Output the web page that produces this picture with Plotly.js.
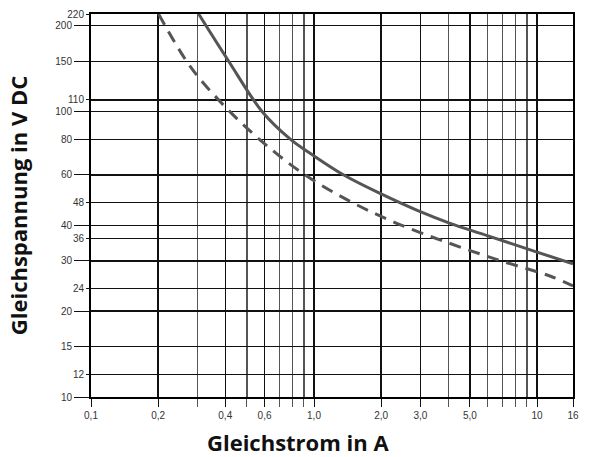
<!DOCTYPE html>
<html>
<head>
<meta charset="utf-8">
<script src="https://cdn.plot.ly/plotly-3.0.1.min.js"></script>
<style>html,body{margin:0;padding:0;background:#fff;}#chart{width:596px;height:457px;}</style>
</head>
<body>
<div id="chart"></div>
<script>
// Data (x in A, y in V DC)
const solidX = [0.304, 0.415, 0.586, 0.785, 1.0, 1.36, 1.99, 2.94, 4.05, 5.98, 10.0, 14.5];
const solidY = [220, 150, 100, 80, 70, 60, 51.6, 44.9, 40.7, 36.8, 32.2, 29.3];
const dashedX = [0.201, 0.279, 0.394, 0.576, 0.885, 1.41, 2.32, 3.96, 6.63, 11.5, 14.5];
const dashedY = [220, 143.8, 105.2, 79.4, 61, 49.1, 40.8, 34.8, 30.3, 26.5, 24.5];

// Tick labels
const xTickVals = [0.1, 0.2, 0.4, 0.6, 1, 2, 3, 5, 10, 14.5];
const xTickText = ['0,1', '0,2', '0,4', '0,6', '1,0', '2,0', '3,0', '5,0', '10', '16'];
const xMinorVals = [0.3, 0.5, 0.7, 0.8, 0.9, 4, 6, 7, 8, 9];
const xMajorGrid = [1, 10];
const yTickValsA = [10, 15, 20, 30, 40, 60, 80, 100, 150, 200];
const yTickValsB = [12, 24, 36, 48, 110, 220];
const yMajorGrid = [100];
const xTitle = 'Gleichstrom in A';
const yTitle = 'Gleichspannung in V DC';

const tickFont = {family: 'Liberation Sans, Arial, sans-serif', size: 10, color: '#333'};
const titleFont = {family: 'Open Sans, sans-serif', size: 22, color: '#111', weight: 700};
const xRange = [Math.log10(0.1), Math.log10(14.5)];
const yRange = [1, Math.log10(220)];

const traces = [
  {x: solidX, y: solidY, type: 'scatter', mode: 'lines', xaxis: 'x', yaxis: 'y',
   line: {color: '#555', width: 3, shape: 'spline', smoothing: 1}, hoverinfo: 'skip'},
  {x: dashedX, y: dashedY, type: 'scatter', mode: 'lines', xaxis: 'x', yaxis: 'y2',
   line: {color: '#555', width: 3, dash: '12px,8px', shape: 'spline', smoothing: 1}, hoverinfo: 'skip'}
];

const layout = {
  width: 596, height: 457,
  margin: {l: 91, r: 23, t: 14, b: 60},
  paper_bgcolor: '#fff', plot_bgcolor: '#fff',
  showlegend: false,
  xaxis: {
    type: 'log', range: xRange,
    tickmode: 'array', tickvals: xTickVals, ticktext: xTickText,
    ticks: 'outside', ticklen: 8, tickwidth: 1, tickcolor: '#111',
    tickfont: tickFont,
    showgrid: true, gridcolor: '#111', gridwidth: 1.3,
    minor: {tickmode: 'array', tickvals: xMinorVals, ticks: 'outside', ticklen: 8, tickcolor: '#555',
            showgrid: true, gridcolor: '#555', gridwidth: 1.5},
    showline: true, mirror: true, linecolor: '#000', linewidth: 2,
    zeroline: false, automargin: false
  },
  xaxis2: {
    type: 'log', range: xRange, overlaying: 'x', anchor: 'y', side: 'bottom',
    tickmode: 'array', tickvals: xMajorGrid, showticklabels: false, ticks: '',
    showgrid: true, gridcolor: '#000', gridwidth: 2.4,
    showline: false, zeroline: false, automargin: false
  },
  yaxis: {
    type: 'log', range: yRange,
    tickmode: 'array', tickvals: yTickValsA, ticktext: yTickValsA.map(String),
    ticks: 'outside', ticklen: 15, tickwidth: 1, tickcolor: '#111',
    tickfont: tickFont,
    showgrid: true, gridcolor: '#111', gridwidth: 1.3,
    showline: true, mirror: true, linecolor: '#000', linewidth: 2,
    zeroline: false, automargin: false,
    title: {text: yTitle, font: titleFont, standoff: 22}
  },
  yaxis2: {
    type: 'log', range: yRange, overlaying: 'y', anchor: 'x', side: 'left',
    tickmode: 'array', tickvals: yTickValsB, ticktext: yTickValsB.map(String),
    ticks: 'outside', ticklen: 4, tickwidth: 1, tickcolor: '#111',
    tickfont: tickFont,
    showgrid: true, gridcolor: '#111', gridwidth: 1.3,
    showline: false, zeroline: false, automargin: false
  },
  yaxis3: {
    type: 'log', range: yRange, overlaying: 'y', anchor: 'x', side: 'left',
    tickmode: 'array', tickvals: yMajorGrid, showticklabels: false, ticks: '',
    showgrid: true, gridcolor: '#000', gridwidth: 2.4,
    showline: false, zeroline: false, automargin: false
  },
  annotations: [
    {text: xTitle, font: titleFont, xref: 'paper', yref: 'paper',
     x: (298 - 91) / 482, y: -0.117, xanchor: 'center', yanchor: 'middle', showarrow: false}
  ]
};

Plotly.newPlot('chart', traces, layout, {staticPlot: true, displayModeBar: false});
</script>
</body>
</html>
